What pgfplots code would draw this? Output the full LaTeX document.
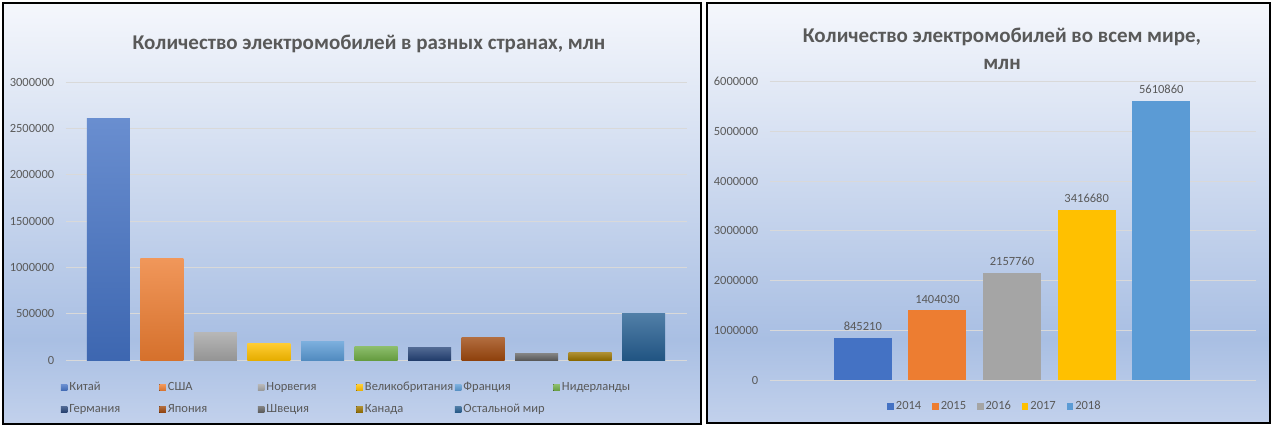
\documentclass[border=0pt]{standalone}
\usepackage{fontspec}
\setmainfont{Carlito}
\usepackage{pgfplots}
\pgfplotsset{compat=1.18}

\definecolor{txt}{HTML}{595959}
\definecolor{gridc}{HTML}{D9D9D9}
\definecolor{bgtop}{HTML}{F5F7FC}
\definecolor{bgmid}{HTML}{A9BFE3}
\definecolor{bgbot}{HTML}{C2D1EC}
\definecolor{c1}{HTML}{4472C4}
\definecolor{c2}{HTML}{ED7D31}
\definecolor{c3}{HTML}{A5A5A5}
\definecolor{c4}{HTML}{FFC000}
\definecolor{c5}{HTML}{5B9BD5}
\definecolor{c6}{HTML}{70AD47}
\definecolor{c7}{HTML}{264478}
\definecolor{c8}{HTML}{9E480E}
\definecolor{c9}{HTML}{636363}
\definecolor{c10}{HTML}{997300}
\definecolor{c11}{HTML}{255E91}

\pgfdeclareverticalshading{panelbg}{100bp}{color(0bp)=(bgbot); color(25bp)=(bgbot); color(35bp)=(bgmid); color(75bp)=(bgtop); color(100bp)=(bgtop)}

\newcommand{\tfont}{\fontsize{12.5}{14}\selectfont}

\pgfplotsset{
  panel/.style={
    scale only axis, anchor=south west,
    axis line style={draw=none},
    ymajorgrids, grid style={gridc, line width=0.8pt},
    xtick=\empty, major tick length=0pt,
    scaled y ticks=false,
    ybar,
    every axis plot post/.append style={bar shift=0pt},
    /pgf/number format/assume math mode=true,
    yticklabel style={/pgf/number format/fixed, /pgf/number format/1000 sep={},
      xshift=-8pt, font=\tfont, text=txt},
    legend style={draw=none, fill=none, inner sep=0pt, outer sep=0pt,
      anchor=north west, font=\tfont, text=txt,
      nodes={inner sep=0pt, text height=8pt, text depth=2.5pt}},
    legend cell align=left,
    legend image code/.code={\fill[##1] (0pt,-3.25pt) rectangle (6.5pt,3.25pt);},
  },
  gbar/.style={top color=#1!80!white, bottom color=#1!90!black, draw=none},
  fbar/.style={fill=#1, draw=none},
}

\begin{document}
\begin{tikzpicture}
\fill[white] (0pt,0pt) rectangle (1275pt,429pt);
\shade[shading=panelbg] (3pt,5pt) rectangle (701pt,426pt);
\shade[shading=panelbg] (707pt,6pt) rectangle (1270pt,426pt);

% left: countries
\begin{axis}[panel,
  at={(65.7pt,69pt)}, width=620.8pt, height=278pt,
  xmin=-0.798, xmax=10.8, ymin=0, ymax=3000000,
  ytick={0,500000,1000000,1500000,2000000,2500000,3000000},
  bar width=43pt,
  legend columns=6,
  legend style={at={(-0.0076,-0.0808)},
    /tikz/every odd column/.append style={column sep=2pt},
    /tikz/row sep=11.3pt},
]
\addplot[gbar=c1] coordinates {(0,2610000)};  \addlegendentry{\makebox[90pt][l]{Китай}}
\addplot[gbar=c2] coordinates {(1,1100000)};  \addlegendentry{\makebox[90pt][l]{США}}
\addplot[gbar=c3] coordinates {(2,300000)};   \addlegendentry{\makebox[90pt][l]{Норвегия}}
\addplot[gbar=c4] coordinates {(3,180000)};   \addlegendentry{\makebox[90pt][l]{Великобритания}}
\addplot[gbar=c5] coordinates {(4,200000)};   \addlegendentry{\makebox[90pt][l]{Франция}}
\addplot[gbar=c6] coordinates {(5,145000)};   \addlegendentry{\makebox[90pt][l]{Нидерланды}}
\addplot[gbar=c7] coordinates {(6,135000)};   \addlegendentry{\makebox[90pt][l]{Германия}}
\addplot[gbar=c8] coordinates {(7,240000)};   \addlegendentry{\makebox[90pt][l]{Япония}}
\addplot[gbar=c9] coordinates {(8,70000)};    \addlegendentry{\makebox[90pt][l]{Швеция}}
\addplot[gbar=c10] coordinates {(9,80000)};   \addlegendentry{\makebox[90pt][l]{Канада}}
\addplot[gbar=c11] coordinates {(10,500000)}; \addlegendentry{\makebox[90pt][l]{Остальной мир}}
\end{axis}

% right: world by year
\begin{axis}[panel,
  at={(769.7pt,49pt)}, width=485.8pt, height=298.5pt,
  xmin=-1.248, xmax=5.263, ymin=0, ymax=6000000,
  ytick={0,1000000,2000000,3000000,4000000,5000000,6000000},
  bar width=58pt,
  nodes near coords, point meta=explicit symbolic,
  every node near coord/.append style={font=\tfont, text=txt, yshift=3.5pt},
  legend columns=5,
  legend style={at={(0.2423,-0.0712)},
    /tikz/every odd column/.append style={column sep=2pt},
    /tikz/every even column/.append style={column sep=11pt}},
]
\addplot[fbar=c1] coordinates {(0,845210) [845210]};   \addlegendentry{2014}
\addplot[fbar=c2] coordinates {(1,1404030) [1404030]}; \addlegendentry{2015}
\addplot[fbar=c3] coordinates {(2,2157760) [2157760]}; \addlegendentry{2016}
\addplot[fbar=c4] coordinates {(3,3416680) [3416680]}; \addlegendentry{2017}
\addplot[fbar=c5] coordinates {(4,5610860) [5610860]}; \addlegendentry{2018}
\end{axis}

\node[font=\bfseries\fontsize{21}{27.5}\selectfont, text=txt] at (369pt,385.4pt)
  {Количество электромобилей в разных странах, млн};
\node[font=\bfseries\fontsize{21}{27.5}\selectfont, text=txt, align=center] at (1002pt,380pt)
  {Количество электромобилей во всем мире,\\млн};

\draw[black, line width=1.5pt] (3pt,5pt) rectangle (701pt,426pt);
\draw[black, line width=1.5pt] (707pt,6pt) rectangle (1270pt,426pt);

\pgfresetboundingbox
\path (0pt,0pt) rectangle (1275pt,429pt);
\end{tikzpicture}
\end{document}
